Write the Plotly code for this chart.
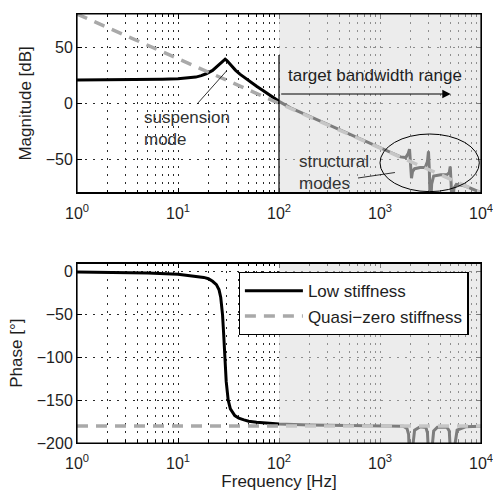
import plotly.graph_objects as go

# ---------------- data ----------------
freq_low = [1, 2, 3, 5, 7, 10, 13, 15, 17, 19, 22, 24, 26.5, 28, 29.3, 30.5, 32, 34, 37, 41,
            46, 52, 60, 70, 82, 92, 100, 130, 200, 300, 500, 800, 1200, 1600, 1800, 1900, 1960,
            2000, 2050, 2100, 2200, 2500, 2800, 2950, 3020, 3080, 3150, 3250, 3400, 4000, 4600,
            4850, 4960, 5050, 5190, 5400, 5700, 7000, 10000]
mag_low = [21.0, 21.0, 21.1, 21.3, 21.6, 22.0, 22.8, 23.5, 24.8, 26.5, 29.5, 32.5, 36.0, 38.3, 39.6,
           38.3, 36.0, 33.2, 29.8, 26.2, 22.7, 19.2, 15.3, 11.2, 7.2, 4.0, 1.8, -4.0, -11.5, -18.8,
           -27.8, -35.9, -43.1, -47.9, -48.5, -45.0, -41.0, -50.0, -67.0, -61.0, -58.5, -57.5,
           -57.5, -52.0, -43.0, -60.0, -95.0, -72.0, -65.0, -64.0, -64.0, -62.0, -56.5, -70.0,
           -95.0, -76.0, -72.5, -74.0, -80.0]

freq_low_ph = [1, 3, 5, 10, 15, 18, 20, 22, 24, 25.5, 26.5, 27.2, 27.6, 28.3, 29.1, 30, 31.4, 33,
               36.5, 40, 45, 50, 60, 70, 80, 100, 200, 500, 1000, 1700, 1850, 1920, 1960, 2000,
               2060, 2100, 2130, 2200, 2500, 2850, 2950, 3000, 3050, 3150, 3230, 3280, 3400, 3700,
               4600, 4850, 4950, 5050, 5200, 5400, 5550, 5800, 7000, 10000]
phase_low = [-0.3, -0.8, -1.3, -2.8, -5.0, -6.5, -8.0, -11.0, -15.0, -21.0, -30.0, -40.0, -50.0,
             -72.0, -100.0, -128.0, -150.0, -160.0, -168.0, -171.0, -173.0, -174.5, -175.8,
             -176.6, -177.1, -177.8, -179.0, -179.6, -179.8, -180.5, -183.0, -190.0, -220.0,
             -290.0, -300.0, -240.0, -200.0, -185.0, -181.0, -182.0, -188.0, -205.0, -270.0,
             -300.0, -250.0, -205.0, -186.0, -181.5, -181.5, -186.0, -205.0, -280.0, -300.0,
             -240.0, -200.0, -185.0, -181.0, -180.5]

freq_qz = [1, 10000]
mag_qz = [80, -80]
phase_qz = [-180, -180]

tick_freqs = [1, 10, 100, 1000, 10000]
tick_text = ["10<sup>0</sup>", "10<sup>1</sup>", "10<sup>2</sup>", "10<sup>3</sup>", "10<sup>4</sup>"]
minor_freqs = [m * d for d in (1, 10, 100, 1000) for m in range(2, 10)]
mag_ticks = [-50, 0, 50]
phase_ticks = [-200, -150, -100, -50, 0]

names = ["Low stiffness", "Quasi\u2212zero stiffness"]

# ---------------- styles ----------------
FONT = "Liberation Sans, Arial, Helvetica, sans-serif"
TXT = "#1e1e1e"
BLACK_LINE = dict(color="black", width=3)
QZ_LINE = dict(color="#a9a9a9", width=3.5, dash="11px,8px")
GRID = dict(gridcolor="#2a2a2a", gridwidth=1, griddash="1.5px,6.5px")

fig = go.Figure()
fig.add_trace(go.Scatter(x=freq_low, y=mag_low, mode="lines", line=BLACK_LINE,
                         name=names[0], xaxis="x", yaxis="y", showlegend=False))
fig.add_trace(go.Scatter(x=freq_qz, y=mag_qz, mode="lines", line=QZ_LINE,
                         name=names[1], xaxis="x", yaxis="y", showlegend=False))
fig.add_trace(go.Scatter(x=freq_low_ph, y=phase_low, mode="lines", line=BLACK_LINE,
                         name=names[0], xaxis="x2", yaxis="y2"))
fig.add_trace(go.Scatter(x=freq_qz, y=phase_qz, mode="lines", line=QZ_LINE,
                         name=names[1], xaxis="x2", yaxis="y2"))

xcommon = dict(type="log", range=[0, 4], tickmode="array", tickvals=tick_freqs, ticktext=tick_text,
               ticks="inside", ticklen=5, tickcolor="black", showline=True, linecolor="black",
               linewidth=1, mirror="ticks", showgrid=True, zeroline=False, automargin=False,
               ticklabeloverflow="allow", ticklabelstandoff=6,
               tickfont=dict(family=FONT, size=16, color=TXT),
               minor=dict(tickmode="array", tickvals=minor_freqs, ticks="inside", ticklen=3,
                          tickcolor="black", showgrid=True, **GRID),
               **GRID)
ycommon = dict(ticks="inside", ticklen=5, tickcolor="black", showline=True, linecolor="black",
               linewidth=1, mirror="ticks", showgrid=True, zeroline=False, automargin=False,
               tickfont=dict(family=FONT, size=16, color=TXT), **GRID)

top_dom = [0.5834, 1.0]
bot_dom = [0.0, 0.4189]

fig.update_layout(
    width=493, height=495,
    margin=dict(l=77, r=12, t=14, b=52, autoexpand=False),
    paper_bgcolor="white", plot_bgcolor="white",
    font=dict(family=FONT, size=17, color=TXT),
    xaxis=dict(anchor="y", domain=[0, 1], **xcommon),
    yaxis=dict(anchor="x", domain=top_dom, range=[-80, 80], tickvals=mag_ticks,
               title=dict(text="Magnitude [dB]", font=dict(family=FONT, size=17, color=TXT), standoff=9),
               **ycommon),
    xaxis2=dict(anchor="y2", domain=[0, 1],
                title=dict(text="Frequency [Hz]", font=dict(family=FONT, size=17, color=TXT), standoff=0),
                **xcommon),
    yaxis2=dict(anchor="x2", domain=bot_dom, range=[-200, 10], tickvals=phase_ticks,
                title=dict(text="Phase [\u00b0]", font=dict(family=FONT, size=17, color=TXT), standoff=9),
                **ycommon),
    legend=dict(x=0.40, y=0.3986, xanchor="left", yanchor="top", bgcolor="white",
                bordercolor="black", borderwidth=1.3, font=dict(family=FONT, size=17, color=TXT),
                itemwidth=58, tracegroupgap=0),
    showlegend=True,
)

shapes = []
# shaded target band (semi-transparent, on top, like the original patch)
for xr, yr in (("x domain", "y domain"), ("x2 domain", "y2 domain")):
    shapes.append(dict(type="rect", xref=xr, yref=yr, x0=0.5, x1=1, y0=0, y1=1,
                       fillcolor="rgba(221,221,221,0.565)", line=dict(width=0), layer="above"))
    shapes.append(dict(type="rect", xref=xr, yref=yr, x0=0, x1=1, y0=0, y1=1,
                       fillcolor="rgba(0,0,0,0)", line=dict(color="black", width=1.2), layer="above"))
# band start marker in magnitude plot
shapes.append(dict(type="line", xref="x domain", yref="y domain", x0=0.5, x1=0.5, y0=0, y1=0.7706,
                   line=dict(color="black", width=1.2), layer="above"))
# ellipse around structural modes
shapes.append(dict(type="circle", xref="x domain", yref="y domain", x0=0.75, x1=0.9958, y0=0.006,
                   y1=0.3285, line=dict(color="black", width=1), layer="above"))
# leader lines
shapes.append(dict(type="line", xref="x domain", yref="y domain", x0=0.6955, x1=0.787, y0=0.0823,
                   y1=0.113, line=dict(color="black", width=0.8), layer="above"))
shapes.append(dict(type="line", xref="x domain", yref="y domain", x0=0.297, x1=0.370, y0=0.496,
                   y1=0.681, line=dict(color="black", width=0.8), layer="above"))
fig.update_layout(shapes=shapes)

annots = [
    dict(text="suspension<br>mode", xref="x domain", yref="y domain", x=0.162, y=0.485,
         xanchor="left", yanchor="top", align="left", showarrow=False,
         font=dict(family=FONT, size=17, color="#333333")),
    dict(text="structural<br>modes", xref="x domain", yref="y domain", x=0.545, y=0.24,
         xanchor="left", yanchor="top", align="left", showarrow=False,
         font=dict(family=FONT, size=17, color="#333333")),
    dict(text="target bandwidth range", xref="x domain", yref="y domain", x=0.7376, y=0.6586,
         xanchor="center", yanchor="middle", showarrow=False,
         font=dict(family=FONT, size=17, color=TXT)),
    dict(text="", xref="x domain", yref="y domain", x=0.925, y=0.5523, ax=-171, ay=0,
         showarrow=True, arrowhead=2, arrowsize=1.4, arrowwidth=1.2, arrowcolor="black"),
]
fig.update_layout(annotations=annots)

fig.write_html("out.html", config={"displayModeBar": False},
               post_script="document.body.style.margin='0';")
